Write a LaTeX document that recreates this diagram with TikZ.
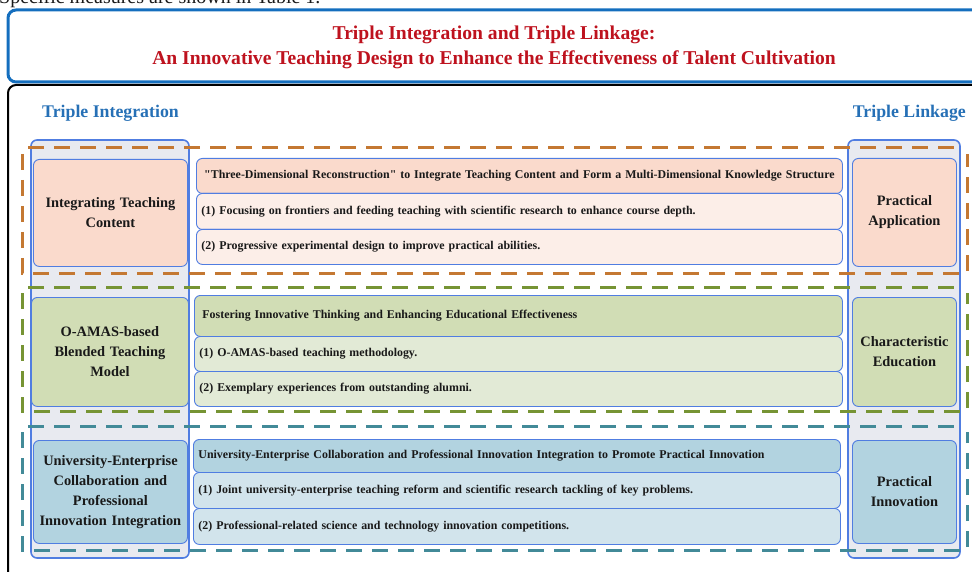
\documentclass[tikz,border=0pt]{standalone}
\usepackage{fontspec}
\setmainfont{Liberation Serif}
\newfontfamily\nolig{Liberation Serif}[Ligatures=TeXOff]
\definecolor{titlered}{RGB}{190,18,30}
\definecolor{headblue}{RGB}{38,112,182}
\definecolor{frameblue}{RGB}{20,110,190}
\definecolor{boxblue}{RGB}{80,125,225}
\definecolor{colgray}{RGB}{232,234,240}
\definecolor{dorange}{RGB}{196,120,50}
\definecolor{dgreen}{RGB}{118,148,52}
\definecolor{dteal}{RGB}{66,138,152}
\definecolor{fillA}{RGB}{250,218,204}
\definecolor{itemA}{RGB}{252,238,232}
\definecolor{fillB}{RGB}{209,221,181}
\definecolor{itemB}{RGB}{226,234,214}
\definecolor{fillC}{RGB}{178,211,224}
\definecolor{itemC}{RGB}{210,228,236}
\definecolor{ink}{RGB}{25,25,25}
\begin{document}
\begin{tikzpicture}[x=1pt,y=-1pt,
  titletext/.style={font=\fontsize{19.6}{23}\selectfont\bfseries, text=titlered, inner sep=0pt},
  coltitle/.style={font=\fontsize{17.8}{21}\selectfont\bfseries, text=headblue, inner sep=0pt},
  colbox/.style={fill=colgray, draw=boxblue, line width=1.6pt, rounded corners=6pt},
  grpdash/.style={line width=3pt, dash pattern=on 16pt off 10pt},
  sidebox/.style={draw=boxblue, line width=0.9pt, rounded corners=6pt, anchor=north west,
     align=center, text=ink, inner sep=2pt, font=\fontsize{14.4}{20}\selectfont\bfseries},
  midbox/.style={draw=boxblue, line width=0.9pt, rounded corners=6pt, anchor=north west,
     align=left, text=ink, inner xsep=5pt, inner ysep=0pt, font=\fontsize{11.9}{14}\selectfont\bfseries}
]
\useasboundingbox (0,0) rectangle (972,572);
\clip (0,0) rectangle (972,572);
% partial text line above the figure
\node[anchor=base west, inner sep=0pt, font=\fontsize{20}{23}\selectfont, text=ink] (pre) at (-1,4) {Specific measures are shown in Table 1.};
% title frame
\draw[frameblue, line width=3pt, rounded corners=8pt] (8,10) rectangle (995,82);
\node[titletext] (t1) at (494,35) {Triple Integration and Triple Linkage:};
\node[titletext] (t2) at (494,60) {An Innovative Teaching Design to Enhance the Effectiveness of Talent Cultivation};
% body frame
\draw[black, line width=2pt, rounded corners=8pt] (8,85) rectangle (995,640);
\node[coltitle, anchor=west] (ti) at (42,113) {Triple Integration};
\node[coltitle, anchor=east] (tl) at (966,113) {Triple Linkage};
% columns
\draw[colbox] (31,140) rectangle (189,558);
\draw[colbox] (848,140) rectangle (960,558);
% dashed groups
\draw[grpdash, dorange] (28,148) -- (960,148);
\draw[grpdash, dorange] (22,154) -- (22,273) -- (967,273) -- (967,154);
\draw[grpdash, dgreen] (28,287) -- (960,287);
\draw[grpdash, dgreen] (22,293) -- (22,411) -- (967,411) -- (967,293);
\draw[grpdash, dteal] (28,426) -- (960,426);
\draw[grpdash, dteal] (22,432) -- (22,550) -- (967,550) -- (967,432);
% left boxes
\node[sidebox, fill=fillA, minimum width=154pt, minimum height=107pt, text width=148pt] (l1) at (33,159) {Integrating Teaching\\Content};
\node[sidebox, fill=fillB, minimum width=157pt, minimum height=109pt, text width=151pt] (l2) at (31,297) {O-AMAS-based\\Blended Teaching\\Model};
\node[sidebox, fill=fillC, minimum width=154pt, minimum height=103pt, text width=150pt] (l3) at (33,440) {University-Enterprise\\Collaboration and\\Professional\\Innovation Integration};
% right boxes
\node[sidebox, fill=fillA, minimum width=104pt, minimum height=108pt, text width=100pt] (r1) at (852,158) {Practical\\Application};
\node[sidebox, fill=fillB, minimum width=104pt, minimum height=109pt, text width=100pt] (r2) at (852,297) {Characteristic\\Education};
\node[sidebox, fill=fillC, minimum width=104pt, minimum height=103pt, text width=100pt] (r3) at (852,440) {Practical\\Innovation};
% middle row 1
\node[midbox, fill=fillA, minimum height=35pt, text width=636pt, align=center] (a0) at (196,158) {{\nolig "Three-Dimensional Reconstruction"} to Integrate Teaching Content and Form a Multi-Dimensional Knowledge Structure};
\node[midbox, fill=itemA, minimum height=36pt, text width=636pt] (a1) at (196,193) {(1) Focusing on frontiers and feeding teaching with scientific research to enhance course depth.};
\node[midbox, fill=itemA, minimum height=35pt, text width=636pt] (a2) at (196,229) {(2) Progressive experimental design to improve practical abilities.};
% middle row 2
\node[midbox, fill=fillB, minimum height=41pt, text width=632pt, inner xsep=8pt] (b0) at (194,295) {Fostering Innovative Thinking and Enhancing Educational Effectiveness};
\node[midbox, fill=itemB, minimum height=35pt, text width=638pt] (b1) at (194,336) {(1) O-AMAS-based teaching methodology.};
\node[midbox, fill=itemB, minimum height=35pt, text width=638pt] (b2) at (194,371) {(2) Exemplary experiences from outstanding alumni.};
% middle row 3
\node[midbox, fill=fillC, minimum height=33pt, text width=637pt] (c0) at (193,439) {University-Enterprise Collaboration and Professional Innovation Integration to Promote Practical Innovation};
\node[midbox, fill=itemC, minimum height=36pt, text width=637pt] (c1) at (193,472) {(1) Joint university-enterprise teaching reform and scientific research tackling of key problems.};
\node[midbox, fill=itemC, minimum height=36pt, text width=637pt] (c2) at (193,508) {(2) Professional-related science and technology innovation competitions.};
\end{tikzpicture}
\end{document}
